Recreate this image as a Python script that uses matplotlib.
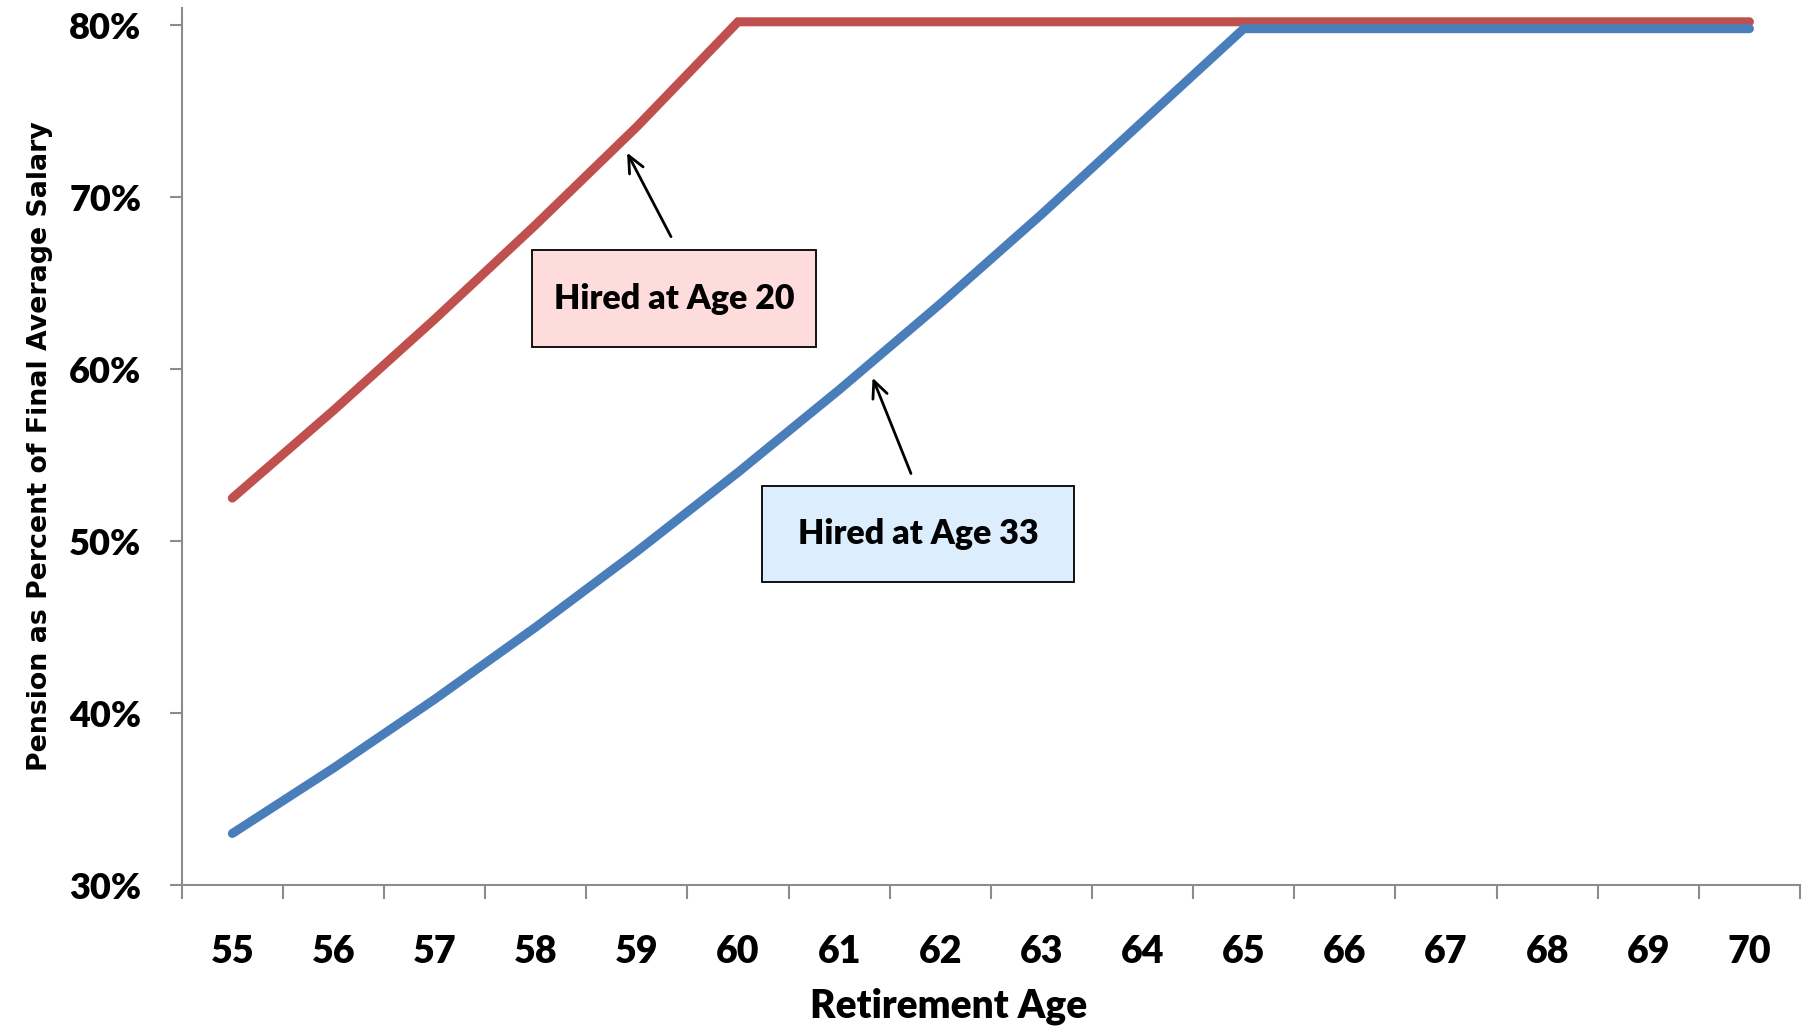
import matplotlib
matplotlib.use("Agg")
import matplotlib.pyplot as plt
from matplotlib.patches import Rectangle

# data
ages = [55, 56, 57, 58, 59, 60, 61, 62, 63, 64, 65, 66, 67, 68, 69, 70]
hired_20 = [52.5, 57.6, 62.9, 68.4, 74.1, 80.2, 80.2, 80.2, 80.2, 80.2, 80.2, 80.2, 80.2, 80.2, 80.2, 80.2]
hired_33 = [33.0, 36.8, 40.8, 45.0, 49.4, 54.0, 58.8, 63.8, 69.0, 74.4, 79.8, 79.8, 79.8, 79.8, 79.8, 79.8]
yticks = [30, 40, 50, 60, 70, 80]

RED = "#C0504D"
BLUE = "#4A7EBB"
AXC = "#8C8C8C"
FONT = ["Lato", "DejaVu Sans"]
WT = "heavy"

fig = plt.figure(figsize=(18.14, 10.29), dpi=100)
ax = fig.add_axes([0.1002, 0.1399, 0.8921, 0.8523])

ax.plot(ages, [v / 100 for v in hired_20], color=RED, lw=6.5, solid_capstyle="round", solid_joinstyle="miter", zorder=3)
ax.plot(ages, [v / 100 for v in hired_33], color=BLUE, lw=6.5, solid_capstyle="round", solid_joinstyle="miter", zorder=3)

ax.set_xlim(54.5, 70.5)
ax.set_ylim(0.30, 0.81)

for s in ["top", "right"]:
    ax.spines[s].set_visible(False)
for s in ["left", "bottom"]:
    ax.spines[s].set_color(AXC)
    ax.spines[s].set_linewidth(1.5)

ax.set_yticks([t / 100 for t in yticks])
ax.set_yticklabels(["%d%%" % t for t in yticks], family=FONT, fontweight=WT, fontsize=26)
ax.tick_params(axis="y", direction="out", length=9, width=1.5, color=AXC, pad=20)

ax.set_xticks(ages)
ax.set_xticklabels([str(a) for a in ages], family=FONT, fontweight=WT, fontsize=27)
ax.set_xticks([a - 0.5 for a in ages] + [70.5], minor=True)
ax.tick_params(axis="x", which="major", length=0, pad=36)
ax.tick_params(axis="x", which="minor", direction="out", length=10, width=1.5, color=AXC)

ax.set_xlabel("Retirement Age", family=FONT, fontweight=WT, fontsize=28)
ax.xaxis.label.set_va("center")
ax.xaxis.set_label_coords(0.474, -0.1385)
ax.set_ylabel("Pension as Percent of Final Average Salary", family="DejaVu Sans",
              fontweight="bold", fontsize=19.3, labelpad=12)

# annotation boxes
boxes = [
    ("Hired at Age 20", 57.965, 0.6128, 2.81, 0.0564, "#FFDCDC", (58.89, 0.7273), (59.35, 0.6756)),
    ("Hired at Age 33", 60.24, 0.4762, 3.086, 0.0558, "#DCEEFD", (61.32, 0.5965), (61.72, 0.5378)),
]
for label, x0, y0, w, h, fc, head, tail in boxes:
    ax.add_patch(Rectangle((x0, y0), w, h, facecolor=fc, edgecolor="black", lw=1.3, zorder=4))
    ax.text(x0 + w / 2, y0 + h / 2, label, ha="center", va="center", family=FONT,
            fontweight=WT, fontsize=24.5, zorder=5)
    ax.annotate("", xy=head, xytext=tail,
                arrowprops=dict(arrowstyle="->,head_length=1.2,head_width=0.55", color="black", lw=2),
                zorder=5)

fig.savefig("out.png", dpi=100)
